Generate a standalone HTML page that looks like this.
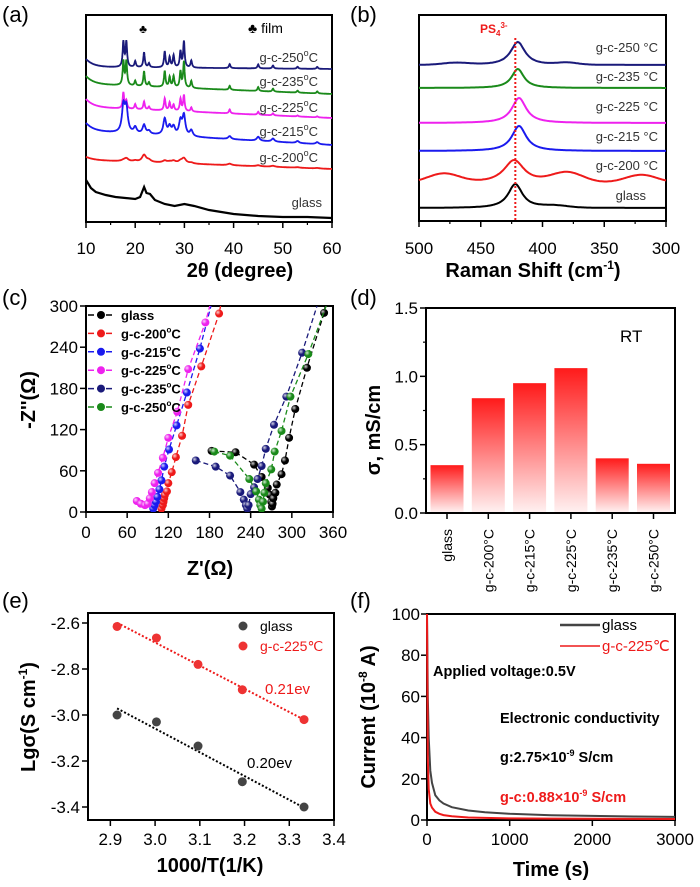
<!DOCTYPE html>
<html><head><meta charset="utf-8"><style>
html,body{margin:0;padding:0;background:#fff;}
svg{display:block;font-family:"Liberation Sans",Arial,sans-serif;}
</style></head><body>
<svg id="fig" width="700" height="887" viewBox="0 0 700 887" xmlns="http://www.w3.org/2000/svg">
<defs>
<linearGradient id="barGrad" x1="0" y1="0" x2="0" y2="1">
<stop offset="0" stop-color="#ff1a1a"/><stop offset="1" stop-color="#fff0f0"/>
</linearGradient>
<radialGradient id="ball" cx="0.35" cy="0.35" r="0.7"><stop offset="0" stop-color="#fff" stop-opacity="0.8"/><stop offset="0.5" stop-color="#fff" stop-opacity="0"/></radialGradient>
</defs>
<g font-size="22" fill="#000">
<text x="2" y="22">(a)</text>
<text x="350" y="22">(b)</text>
<text x="2" y="305">(c)</text>
<text x="350" y="305">(d)</text>
<text x="2" y="608">(e)</text>
<text x="350" y="608">(f)</text>
</g>
</svg>
<script>
// ---------- DATA ----------
// (a) XRD
const xrdSeries = ['g-c-250°C','g-c-235°C','g-c-225°C','g-c-215°C','g-c-200°C'];
const xrdColors = ['#1a1a7a','#1a8a1a','#ee22ee','#1a1aee','#ee1a1a'];
const xrdBaseStart = [155,138,115,91,62];
const xrdBaseEnd = [153,128,104,77,53];
const xrdPeakPos = [17.6,18.2,20.0,21.8,22.8,26.0,27.0,27.8,29.2,29.9,31.4,39.2,45.0,48.0,53.0,57.0];
const xrdPeak250 = [25,25,6,15,4,16,10,12,16,26,7,4,4,3,2,2];
const xrdPeak235 = [24,24,5,15,4,16,10,11,16,26,7,4,4,3,2,2];
const xrdPeak225 = [16,8,5,8,3,12,8,6,12,16,4,4,3,2,1,1];
const xrdPeak215 = [26,24,6,9,3,16,8,8,14,20,6,3,4,3,2,2];
const xrdPeak200 = [1,3,1,7,2,2,1,2,2,5,1,1.5,1,1,0.5,0.5];
const xrdWidth = [0.18,0.18,0.18,0.35,0.5];
const glassX = [10,10.5,11,12,14,16,18,20,21,21.8,22.3,23,24,26,28,30,32,35,40,45,50,55,60];
const glassY = [180,184,188,192,195,197,198,199,197,187,193,194,200,204,206,204,206,210,214,216,217,217,218];
const xrdTicks = [10,20,30,40,50,60];
// (b) Raman
const ramanSeries = ['g-c-250 °C','g-c-235 °C','g-c-225 °C','g-c-215 °C','g-c-200 °C','glass'];
const ramanColors = ['#1a1a7a','#1a8a1a','#ee22ee','#1a1aee','#ee1a1a','#000'];
const ramanBase = [156,133,98,70,38,13];
const ramanPeakPos = [420,420,419,419,423,422];
const ramanPeakH = [23,19,25,25,23,24];
const ramanPeakW = [7,6,7,7,10,7];
const ramanHumpPos = [480,380,320];
const ramanHumpH200 = [9,10,8];
const ramanTicks = [500,450,400,350,300];
// (c) Nyquist
const eisNames = ['glass','g-c-200°C','g-c-215°C','g-c-225°C','g-c-235°C','g-c-250°C'];
const eisColors = ['#000','#ee1a1a','#1a1aee','#ee22ee','#1a1a7a','#1a8a1a'];
const eisGlassX = [183,218,245,256,265,268,270,271,272,273,276,278,285,290,296,305,322,347];
const eisGlassY = [89,87,69,51,35,25,15,8,12,20,28,40,55,75,108,150,210,290];
const eis200X = [110,112,113,114,115,118,120,125,131,140,149,168,194];
const eis200Y = [5,10,15,20,25,30,42,58,80,111,156,212,289];
const eis215X = [98,100,102,104,107,110,114,121,132,147,166];
const eis215Y = [5,10,15,22,33,46,66,91,126,174,238];
const eis225X = [74,80,86,90,93,96,100,105,112,120,133,149,174];
const eis225Y = [16,12,10,12,20,29,42,57,79,108,146,208,276];
const eis235X = [160,189,210,225,230,233,235,237,240,245,250,256,262,274,292,315];
const eis235Y = [75,66,53,29,18,10,5,10,26,36,48,67,92,127,168,232];
const eis250X = [187,210,238,248,252,254,256,258,260,262,270,275,285,298,324];
const eis250Y = [88,82,48,30,18,10,5,15,28,42,62,88,118,168,230];
const eisTicksX = [0,60,120,180,240,300,360];
const eisTicksY = [0,60,120,180,240,300];
// (d) bars
const barCats = ['glass','g-c-200°C','g-c-215°C','g-c-225°C','g-c-235°C','g-c-250°C'];
const barVals = [0.35,0.84,0.95,1.06,0.40,0.36];
const barTicks = [0.0,0.5,1.0,1.5];
// (e) Arrhenius
const arrX = [2.915,3.003,3.096,3.195,3.333];
const arrGlass = [-3.00,-3.03,-3.135,-3.29,-3.40];
const arrGC = [-2.615,-2.665,-2.78,-2.89,-3.02];
const arrTicksX = [2.9,3.0,3.1,3.2,3.3,3.4];
const arrTicksY = [-2.6,-2.8,-3.0,-3.2,-3.4];
// (f) DC polarization
const dcT = [0,10,20,40,60,100,150,200,300,500,700,1000,1500,2000,2500,3000];
const dcGlass = [100,60,40,24,18,12,9.5,8,6.2,4.6,3.8,3.0,2.3,2.0,1.7,1.5];
const dcGC = [100,30,15,8,6,4,3,2.4,1.8,1.2,1.0,0.8,0.7,0.6,0.55,0.5];
const dcTicksX = [0,1000,2000,3000];
const dcTicksY = [0,20,40,60,80,100];

// ---------- HELPERS ----------
const NS = 'http://www.w3.org/2000/svg';
const svg = document.getElementById('fig');
function mk(tag, attrs, parent) {
  const e = document.createElementNS(NS, tag);
  for (const k in attrs) e.setAttribute(k, attrs[k]);
  (parent || svg).appendChild(e);
  return e;
}
function txt(s, x, y, size, opts, parent) {
  const a = Object.assign({x: x, y: y, 'font-size': size}, opts || {});
  const t = mk('text', a, parent);
  t.textContent = s;
  return t;
}
function frame(x0, y0, x1, y1, name) {
  const r = mk('rect', {x: x0, y: y0, width: x1 - x0, height: y1 - y0, fill: 'none', stroke: '#000', 'stroke-width': 2});
  
  
}
function pathFrom(xs, ys) {
  return xs.map((x, i) => (i ? 'L' : 'M') + x.toFixed(1) + ' ' + ys[i].toFixed(1)).join(' ');
}

// ---------- (a) XRD ----------
const xA = v => 86 + (v - 10) / 50 * 246;
const yA = I => 222 - I;
frame(86, 15, 332, 222, 'xrd-plot-frame');
xrdTicks.forEach(v => {
  mk('line', {x1: xA(v), x2: xA(v), y1: 222, y2: 228, stroke: '#000', 'stroke-width': 1.5});
  const t = txt(String(v), xA(v), 254, 17, {'text-anchor': 'middle'});
  
  
});
[15, 25, 35, 45, 55].forEach(v => mk('line', {x1: xA(v), x2: xA(v), y1: 222, y2: 225, stroke: '#000', 'stroke-width': 1.2}));
const xrdPeakSets = [xrdPeak250, xrdPeak235, xrdPeak225, xrdPeak215, xrdPeak200];
const xrdLabelY = [62, 86, 112, 136, 162];
xrdSeries.forEach((name, s) => {
  const xs = [], ys = [];
  for (let v = 10; v <= 60.001; v += 0.05) {
    const f = (v - 10) / 50;
    let I = xrdBaseStart[s] + (xrdBaseEnd[s] - xrdBaseStart[s]) * f + 8 * Math.exp(-(v - 10) / 1.5) * (s < 4 ? 1 : 0.4);
    xrdPeakPos.forEach((p, k) => { const d = (v - p) / xrdWidth[s]; I += xrdPeakSets[s][k] / (1 + d * d); });
    xs.push(xA(v)); ys.push(yA(I));
  }
  const p = mk('path', {d: pathFrom(xs, ys), fill: 'none', stroke: xrdColors[s], 'stroke-width': 1.8});
  
  
  const t = txt(name.replace('°C', ''), 318, xrdLabelY[s], 13, {'text-anchor': 'end', fill: '#333'});
  const sp = mk('tspan', {'font-size': 9, dy: -6}, t); sp.textContent = 'o';
  const sp2 = mk('tspan', {dy: 6}, t); sp2.textContent = 'C';
  
  
});
const gp = mk('path', {d: pathFrom(glassX.map(xA), glassY), fill: 'none', stroke: '#000', 'stroke-width': 2.2});


txt('glass', 322, 207, 13, {'text-anchor': 'end', fill: '#333'});
txt('♣', 143, 33, 12, {'text-anchor': 'middle'});
txt('♣ film', 248, 33, 14, {});
const xlA = txt('2θ (degree)', 240, 277, 20, {'text-anchor': 'middle', 'font-weight': 'bold'});



// ---------- (b) Raman ----------
const xB = v => 419 + (500 - v) / 200 * 247;
const yB = I => 221 - I;
frame(419, 15, 666, 221, 'raman-plot-frame');
ramanTicks.forEach(v => {
  mk('line', {x1: xB(v), x2: xB(v), y1: 221, y2: 227, stroke: '#000', 'stroke-width': 1.5});
  const t = txt(String(v), xB(v), 254, 17, {'text-anchor': 'middle'});
  
  
});
[475, 425, 375, 325].forEach(v => mk('line', {x1: xB(v), x2: xB(v), y1: 221, y2: 224, stroke: '#000', 'stroke-width': 1.2}));
const ramanLabelY = [52, 81, 111, 141, 170, 200];
ramanSeries.forEach((name, s) => {
  const xs = [], ys = [];
  for (let v = 500; v >= 300; v -= 1) {
    let I = ramanBase[s];
    const d = (v - ramanPeakPos[s]) / ramanPeakW[s];
    I += ramanPeakH[s] / (1 + d * d);
    if (s === 4) ramanHumpPos.forEach((p, k) => { const e = (v - p) / 18; I += ramanHumpH200[k] * Math.exp(-e * e); });
    if (s === 0) I += 2 * Math.exp(-Math.pow((v - 470) / 15, 2)) + 2 * Math.exp(-Math.pow((v - 380) / 12, 2));
    if (s === 5) I += 2 * Math.exp(-Math.pow((v - 390) / 15, 2));
    xs.push(xB(v)); ys.push(yB(I));
  }
  const p = mk('path', {d: pathFrom(xs, ys), fill: 'none', stroke: ramanColors[s], 'stroke-width': 2});
  
  
  const t = txt(name, s === 5 ? 646 : 658, ramanLabelY[s], 13, {'text-anchor': 'end', fill: '#333'});
  
  
});
const ps = mk('line', {x1: xB(422), x2: xB(422), y1: 38, y2: 221, stroke: '#ee1a1a', 'stroke-width': 2, 'stroke-dasharray': '2,2'});


const pst = txt('PS', 480, 33, 12, {fill: '#ee1a1a', 'font-weight': 'bold'});
const ps1 = mk('tspan', {'font-size': 8, dy: 3}, pst); ps1.textContent = '4';
const ps2 = mk('tspan', {'font-size': 8, dy: -8}, pst); ps2.textContent = '3-';
const xlB = txt('Raman Shift (cm', 533, 277, 20, {'text-anchor': 'middle', 'font-weight': 'bold'});
const xlB1 = mk('tspan', {'font-size': 12, dy: -8}, xlB); xlB1.textContent = '-1';
const xlB2 = mk('tspan', {dy: 8}, xlB); xlB2.textContent = ')';



// ---------- (c) Nyquist ----------
const xC = v => 86 + v / 360 * 247;
const yC = v => 512 - v / 300 * 206;
frame(86, 306, 333, 512, 'nyquist-plot-frame');
eisTicksX.forEach(v => {
  mk('line', {x1: xC(v), x2: xC(v), y1: 512, y2: 518, stroke: '#000', 'stroke-width': 1.5});
  const t = txt(String(v), xC(v), 538, 17, {'text-anchor': 'middle'});
  
  
});
eisTicksY.forEach(v => {
  mk('line', {x1: 80, x2: 86, y1: yC(v), y2: yC(v), stroke: '#000', 'stroke-width': 1.5});
  const t = txt(String(v), 78, yC(v) + 6, 17, {'text-anchor': 'end'});
  
  
});
const eisXs = [eisGlassX, eis200X, eis215X, eis225X, eis235X, eis250X];
const eisYs = [eisGlassY, eis200Y, eis215Y, eis225Y, eis235Y, eis250Y];
const clipC = mk('clipPath', {id: 'clipC'}); mk('rect', {x: 86, y: 306, width: 247, height: 206}, clipC);
const gC = mk('g', {'clip-path': 'url(#clipC)'});
eisNames.forEach((name, s) => {
  const xs = eisXs[s].map(xC), ys = eisYs[s].map(yC);
  const n = xs.length;
  const dx = xs[n - 1] - xs[n - 2], dy = ys[n - 1] - ys[n - 2];
  const k = (306 - ys[n - 1]) / dy;
  const line = mk('path', {d: pathFrom(xs, ys) + ' L' + (xs[n - 1] + dx * k).toFixed(1) + ' 300', fill: 'none', stroke: eisColors[s], 'stroke-width': 1.3, 'stroke-dasharray': '5,3'}, gC);
  
  
  xs.forEach((x, i) => {
    const c = mk('circle', {cx: x, cy: ys[i], r: 4, fill: eisColors[s]}, gC);
    
    
    mk('circle', {cx: x, cy: ys[i], r: 4, fill: 'url(#ball)'}, gC);
  });
  const ly = 315 + s * 18.4;
  mk('line', {x1: 88, x2: 114, y1: ly, y2: ly, stroke: eisColors[s], 'stroke-width': 1.5, 'stroke-dasharray': '6,3'});
  const lc = mk('circle', {cx: 101, cy: ly, r: 4, fill: eisColors[s]});
  
  
  const lt = txt(name.replace('°C', ''), 121, ly + 5, 13, {'font-weight': 'bold'});
  if (s > 0) {
    const a = mk('tspan', {'font-size': 8, dy: -6}, lt); a.textContent = 'o';
    const b = mk('tspan', {dy: 6}, lt); b.textContent = 'C';
  }
  
  
});
const xlC = txt("Z'(Ω)", 210, 575, 20, {'text-anchor': 'middle', 'font-weight': 'bold'});


const ylC = txt("-Z''(Ω)", 0, 0, 20, {'text-anchor': 'middle', 'font-weight': 'bold', transform: 'translate(35,400) rotate(-90)'});



// ---------- (d) Bars ----------
const yD = v => 513 - v / 1.5 * 205;
const bandD = 41.3, x0D = 426;
const xD = i => x0D + 21 + i * bandD;
frame(426, 308, 675, 513, 'conductivity-bar-frame');
barTicks.forEach(v => {
  mk('line', {x1: 420, x2: 426, y1: yD(v), y2: yD(v), stroke: '#000', 'stroke-width': 1.5});
  const t = txt(v.toFixed(1), 418, yD(v) + 6, 17, {'text-anchor': 'end'});
  
  
});
[0.25, 0.75, 1.25].forEach(v => mk('line', {x1: 423, x2: 426, y1: yD(v), y2: yD(v), stroke: '#000', 'stroke-width': 1.2}));
barCats.forEach((c, i) => {
  const r = mk('rect', {x: xD(i) - 16.5, y: yD(barVals[i]), width: 33, height: yD(0) - yD(barVals[i]) - 1, fill: 'url(#barGrad)'});
  
  
  mk('line', {x1: xD(i), x2: xD(i), y1: 513, y2: 519, stroke: '#000', 'stroke-width': 1.5});
  const t = txt(c, 0, 0, 14, {'text-anchor': 'end', transform: 'translate(' + (xD(i) + 5) + ',529) rotate(-90)'});
  
  
});
txt('RT', 620, 342, 17, {});
const ylD = txt('σ, mS/cm', 0, 0, 20, {'text-anchor': 'middle', 'font-weight': 'bold', transform: 'translate(380,430) rotate(-90)'});



// ---------- (e) Arrhenius ----------
const xE = v => 88 + (v - 2.85) / 0.55 * 246;
const yE = v => 623 + (-2.6 - v) / 0.8 * 184;
frame(88, 613, 334, 820, 'arrhenius-plot-frame');
arrTicksX.forEach(v => {
  mk('line', {x1: xE(v), x2: xE(v), y1: 820, y2: 826, stroke: '#000', 'stroke-width': 1.5});
  const t = txt(v.toFixed(1), xE(v), 845, 17, {'text-anchor': 'middle'});
  
  
});
arrTicksY.forEach(v => {
  mk('line', {x1: 82, x2: 88, y1: yE(v), y2: yE(v), stroke: '#000', 'stroke-width': 1.5});
  const t = txt(v.toFixed(1), 80, yE(v) + 6, 17, {'text-anchor': 'end'});
  
  
});
function fit(xs, ys) {
  const n = xs.length, mx = xs.reduce((a, b) => a + b) / n, my = ys.reduce((a, b) => a + b) / n;
  let sxy = 0, sxx = 0; xs.forEach((x, i) => { sxy += (x - mx) * (ys[i] - my); sxx += (x - mx) * (x - mx); });
  const m = sxy / sxx; return [m, my - m * mx];
}
[[arrGlass, '#444', '#000', 'glass'], [arrGC, '#ee3333', '#ee1a1a', 'g-c-225']].forEach(([ys, col, lcol, nm]) => {
  const [m, b] = fit(arrX, ys);
  const l = mk('line', {x1: xE(2.915), y1: yE(m * 2.915 + b), x2: xE(3.333), y2: yE(m * 3.333 + b), stroke: lcol, 'stroke-width': 2, 'stroke-dasharray': '2,2'});
  
  
  arrX.forEach((x, i) => {
    const c = mk('circle', {cx: xE(x), cy: yE(ys[i]), r: 4.5, fill: col});
    
    
  });
});
mk('circle', {cx: 243, cy: 626, r: 4.5, fill: '#444'});
txt('glass', 260, 631, 14, {});
mk('circle', {cx: 243, cy: 646, r: 4.5, fill: '#ee3333'});
txt('g-c-225℃', 260, 651, 14, {fill: '#ee1a1a'});
txt('0.21ev', 265, 694, 15, {fill: '#ee1a1a'});
txt('0.20ev', 247, 768, 15, {});
const xlE = txt('1000/T(1/K)', 210, 872, 20, {'text-anchor': 'middle', 'font-weight': 'bold'});


const ylE = txt('Lgσ(S cm', 0, 0, 20, {'text-anchor': 'middle', 'font-weight': 'bold', transform: 'translate(35,717) rotate(-90)'});
const ylE1 = mk('tspan', {'font-size': 12, dy: -8}, ylE); ylE1.textContent = '-1';
const ylE2 = mk('tspan', {dy: 8}, ylE); ylE2.textContent = ')';



// ---------- (f) DC polarization ----------
const xF = v => 427 + v / 3000 * 248;
const yF = v => 820 - v / 100 * 206;
frame(427, 614, 675, 820, 'polarization-plot-frame');
dcTicksX.forEach(v => {
  mk('line', {x1: xF(v), x2: xF(v), y1: 820, y2: 826, stroke: '#000', 'stroke-width': 1.5});
  const t = txt(String(v), xF(v), 845, 17, {'text-anchor': 'middle'});
  
  
});
dcTicksY.forEach(v => {
  mk('line', {x1: 421, x2: 427, y1: yF(v), y2: yF(v), stroke: '#000', 'stroke-width': 1.5});
  const t = txt(String(v), 420, yF(v) + 6, 17, {'text-anchor': 'end'});
  
  
});
const pG = mk('path', {d: pathFrom(dcT.map(xF), dcGlass.map(yF)), fill: 'none', stroke: '#444', 'stroke-width': 2});


const pR = mk('path', {d: pathFrom(dcT.map(xF), dcGC.map(yF)), fill: 'none', stroke: '#ee1a1a', 'stroke-width': 2});


mk('line', {x1: 560, x2: 600, y1: 625, y2: 625, stroke: '#444', 'stroke-width': 2.5});
txt('glass', 602, 630, 15, {});
mk('line', {x1: 560, x2: 600, y1: 646, y2: 646, stroke: '#ee1a1a', 'stroke-width': 1.5});
txt('g-c-225℃', 602, 651, 15, {fill: '#ee1a1a'});
txt('Applied voltage:0.5V', 433, 676, 14.5, {'font-weight': 'bold'});
txt('Electronic conductivity', 500, 723, 14.5, {'font-weight': 'bold'});
const g1 = txt('g:2.75×10', 500, 762, 14.5, {'font-weight': 'bold'});
const g1a = mk('tspan', {'font-size': 9, dy: -6}, g1); g1a.textContent = '-9';
const g1b = mk('tspan', {dy: 6}, g1); g1b.textContent = ' S/cm';
const g2 = txt('g-c:0.88×10', 500, 802, 14.5, {'font-weight': 'bold', fill: '#ee1a1a'});
const g2a = mk('tspan', {'font-size': 9, dy: -6}, g2); g2a.textContent = '-9';
const g2b = mk('tspan', {dy: 6}, g2); g2b.textContent = ' S/cm';
const xlF = txt('Time (s)', 551, 876, 20, {'text-anchor': 'middle', 'font-weight': 'bold'});


const ylF = txt('Current (10', 0, 0, 20, {'text-anchor': 'middle', 'font-weight': 'bold', transform: 'translate(375,717) rotate(-90)'});
const ylF1 = mk('tspan', {'font-size': 12, dy: -8}, ylF); ylF1.textContent = '-8';
const ylF2 = mk('tspan', {dy: 8}, ylF); ylF2.textContent = ' A)';


</script>
</body></html>
